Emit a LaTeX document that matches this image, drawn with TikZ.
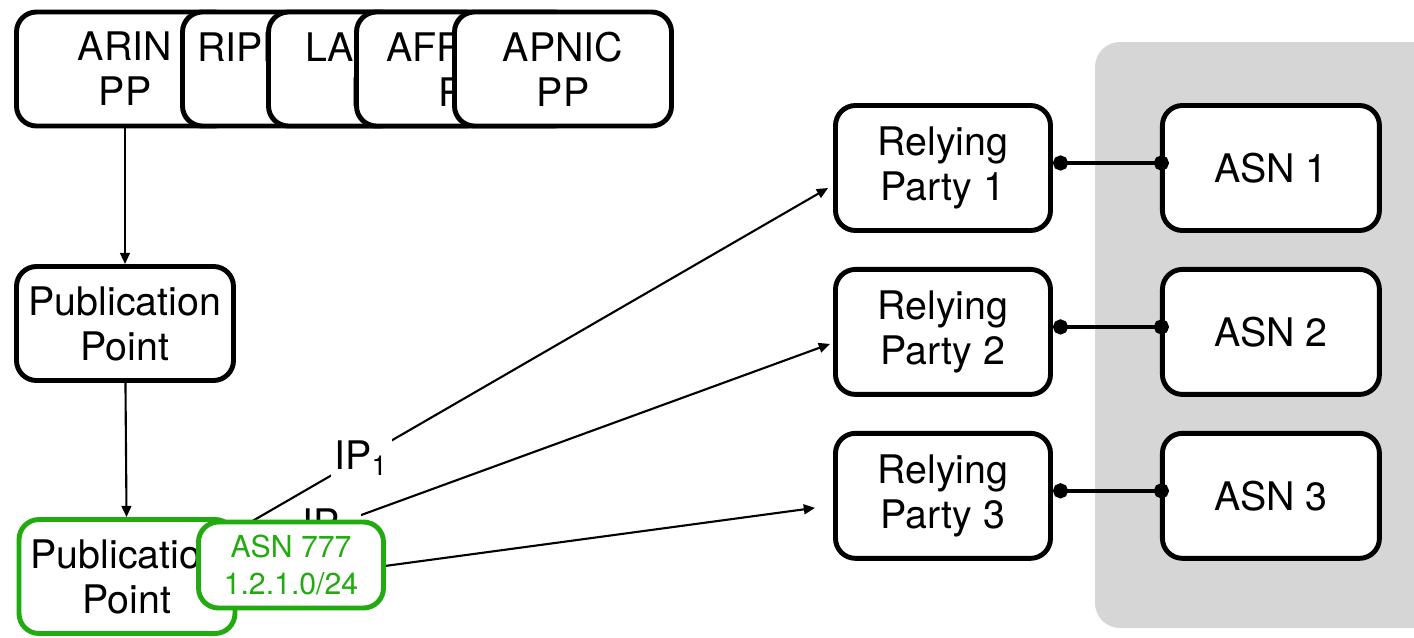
\documentclass[tikz,border=0pt]{standalone}
\usepackage{fontspec}
\setmainfont{TeX Gyre Heros}
\usetikzlibrary{arrows.meta, positioning}
\definecolor{ppgreen}{RGB}{34,170,17}
\definecolor{asgray}{RGB}{214,214,214}

\begin{document}
\begin{tikzpicture}[
    node distance=0.34cm and 1.07cm, % gaps between the boxes
    box/.style={
      rectangle,
      rounded corners=0.2cm,
      minimum height=1.14cm,
      minimum width=2.17cm,
      fill=white,
      draw=black,
      line width=1.4pt,
      align=center,
      font=\fontsize{11.2}{12.8}\selectfont
    },
    rpbox/.style={
      box,
      minimum height=1.25cm,
      minimum width=2.15cm
    },
    ppgbox/.style={
      box,
      draw=ppgreen
    },
    tag/.style={
      box,
      draw=ppgreen,
      text=ppgreen,
      minimum height=0.86cm,
      minimum width=1.85cm,
      font=\fontsize{8.6}{10.8}\selectfont
    },
    arrow/.style={
      -{Triangle[length=3.2pt,width=2.8pt]},
      line width=0.6pt
    },
    link/.style={
      {Circle[length=4.3pt]}-{Circle[length=4.3pt]},
      line width=1.1pt,
      shorten >=-0.09cm
    },
    iplabel/.style={
      fill=white,
      inner sep=1pt,
      font=\fontsize{11.2}{12.8}\selectfont
    }
  ]

  \useasboundingbox (0,0) rectangle (14.14,-6.38);

  % Grauer Hintergrund fuer die ASNs
  \fill[asgray, rounded corners=0.25cm] (10.95,-0.42) rectangle (14.7,-6.28);

  % Obere Reihe - RIR Publication Points
  \node[box] (arin) at (1.25,-0.69) {ARIN\\PP};
  \node[box] (ripe) at (2.91,-0.69) {RIPE NCC\\PP};
  \node[box] (lacnic) at (3.77,-0.69) {LACNIC\\PP};
  \node[box] (afrinic) at (4.65,-0.69) {AFRINIC\\PP};
  \node[box] (apnic) at (5.63,-0.69) {APNIC\\PP};

  % Linke Spalte
  \node[box] (pub) at (1.25,-3.235) {Publication\\Point};
  \node[ppgbox, minimum width=2.13cm] (pubg) at (1.27,-5.765) {Publication\\Point};

  % Relying Parties
  \node[rpbox] (rp1) at (9.43,-1.68) {Relying\\Party 1};
  \node[rpbox, below=of rp1] (rp2) {Relying\\Party 2};
  \node[rpbox, below=of rp2] (rp3) {Relying\\Party 3};

  % ASNs
  \node[rpbox, minimum width=2.17cm, right=of rp1] (asn1) {ASN 1};
  \node[rpbox, minimum width=2.17cm, right=of rp2] (asn2) {ASN 2};
  \node[rpbox, minimum width=2.17cm, right=of rp3] (asn3) {ASN 3};

  % Pfeile
  \draw[arrow] (arin) -- (pub);
  \draw[arrow] (pub) -- (pubg);

  \coordinate (s1) at (2.30,-5.34);
  \coordinate (s2) at (2.90,-5.41);
  \coordinate (s3) at (3.70,-5.68);
  \draw[arrow] (s1) -- node[iplabel, pos=0.22] (ip1) {IP\textsubscript{1}} ([xshift=-0.05cm, yshift=-0.2cm]rp1.west);
  \draw[arrow] (s2) -- node[iplabel, pos=0.074] (ip2) {IP\textsubscript{2}} ([xshift=-0.03cm, yshift=-0.12cm]rp2.west);
  \draw[arrow] (s3) -- ([xshift=-0.18cm, yshift=-0.12cm]rp3.west);

  % Verbindungen RP - ASN
  \draw[link] ([yshift=0.05cm]rp1.east) -- ([yshift=0.05cm]asn1.west);
  \draw[link] ([yshift=0.05cm]rp2.east) -- ([yshift=0.05cm]asn2.west);
  \draw[link] ([yshift=0.05cm]rp3.east) -- ([yshift=0.05cm]asn3.west);

  % ROA-Box ueber dem Publication Point
  \node[tag] (roa) at (2.91,-5.65) {ASN 777\\1.2.1.0/24};

\end{tikzpicture}
\end{document}
